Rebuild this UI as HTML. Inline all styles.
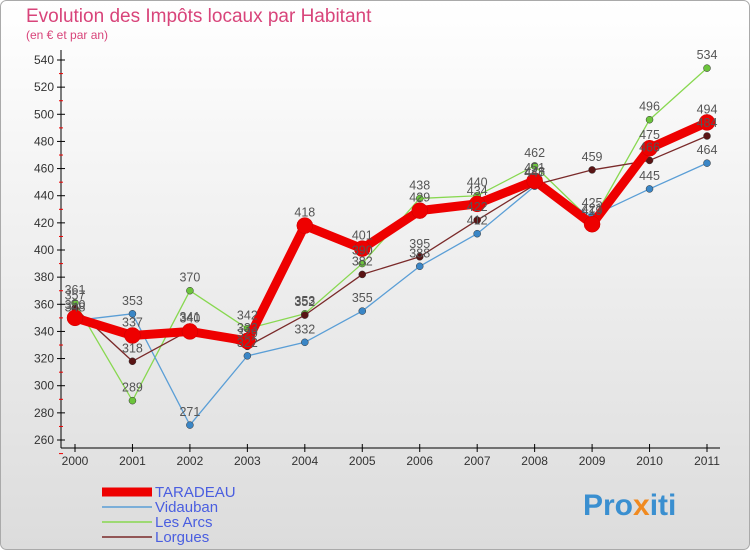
<!DOCTYPE html>
<html><head><meta charset="utf-8"><style>
body{margin:0;width:750px;height:550px;overflow:hidden;font-family:"Liberation Sans",sans-serif}
svg{display:block}
</style></head><body>
<svg id="c" width="750" height="550" xmlns="http://www.w3.org/2000/svg">
<defs><linearGradient id="bg" x1="0" y1="0" x2="0" y2="1"><stop offset="0" stop-color="#ffffff"/><stop offset="1" stop-color="#dcdcdc"/></linearGradient></defs>
<rect x="0.5" y="0.5" width="749" height="549" rx="6" fill="url(#bg)" stroke="#aaa"/>
<text x="26" y="22" font-size="19" fill="#d8447a">Evolution des Impôts locaux par Habitant</text>
<text x="26" y="39" font-size="12" fill="#d8447a">(en € et par an)</text>
<g id="axes"></g><g id="series"></g><g id="legend"></g>
<text x="583" y="515" font-size="30" font-weight="bold" fill="#3a8fd0">Pro<tspan fill="#f08a20">x</tspan>iti</text>
</svg>
<script>
const years=[2000,2001,2002,2003,2004,2005,2006,2007,2008,2009,2010,2011];
const yTicks=[260,280,300,320,340,360,380,400,420,440,460,480,500,520,540];
const names=["TARADEAU","Vidauban","Les Arcs","Lorgues"];
const taradeau=[350,337,340,333,418,401,429,434,451,419,475,494];
const vidauban=[348,353,271,322,332,355,388,412,447,425,445,464];
const lesArcs=[361,289,370,342,353,390,438,440,462,421,496,534];
const lorgues=[357,318,341,329,352,382,395,422,448,459,466,484];
const NS="http://www.w3.org/2000/svg";
const X0=75,X1=707,Y0=440,Y1=60,VMIN=260,VMAX=540;
const xs=i=>X0+(X1-X0)*i/(years.length-1);
const ys=v=>Y0-(v-VMIN)*(Y0-Y1)/(VMAX-VMIN);
function mk(t,a,p){const e=document.createElementNS(NS,t);for(const k in a)e.setAttribute(k,a[k]);p.appendChild(e);return e;}
const ax=document.getElementById('axes');
const yl=mk('line',{x1:61,y1:50,x2:61,y2:448,stroke:'#000'},ax);


const xl=mk('line',{x1:61,y1:448,x2:720,y2:448,stroke:'#000'},ax);


yTicks.forEach(v=>{
 mk('line',{x1:57,y1:ys(v),x2:65,y2:ys(v),stroke:'#000'},ax);
 mk('line',{x1:59,y1:ys(v)+13.6,x2:63,y2:ys(v)+13.6,stroke:'#e00'},ax);
 const t=mk('text',{x:54,y:ys(v)+4,'text-anchor':'end','font-size':12,fill:'#333'},ax);t.textContent=v;
 
 
});
years.forEach((y,i)=>{
 mk('line',{x1:xs(i),y1:444,x2:xs(i),y2:452,stroke:'#000'},ax);
 const t=mk('text',{x:xs(i),y:465,'text-anchor':'middle','font-size':12,fill:'#333'},ax);t.textContent=y;
 
 
});
const sg=document.getElementById('series');
const defs=[[lesArcs,'#88d850','#6cc43c',1.3,3.5,'les-arcs'],[vidauban,'#5a9ed6','#3a86c6',1.3,3.5,'vidauban'],[lorgues,'#7a2a2a','#5a1414',1.3,3.5,'lorgues'],[taradeau,'#ee0000','#ee0000',9,8,'taradeau']];
defs.forEach(([d,lc,pc,w,r,n])=>{
 const pl=mk('polyline',{points:d.map((v,i)=>xs(i)+','+ys(v)).join(' '),fill:'none',stroke:lc,'stroke-width':w,'stroke-linejoin':'round'},sg);
 
 
 d.forEach((v,i)=>{
  const c=mk('circle',{cx:xs(i),cy:ys(v),r:r,fill:pc,stroke:n=='taradeau'?'#c00':'#333','stroke-width':0.5},sg);
  
  
 });
});
defs.forEach(([d,lc,pc,w,r,n])=>{
 d.forEach((v,i)=>{
  const t=mk('text',{x:xs(i),y:ys(v)-9,'text-anchor':'middle','font-size':12.5,fill:'#555'},sg);t.textContent=v;
  
  
 });
});
const lg=document.getElementById('legend');
const lcols=['#ee0000','#5a9ed6','#88d850','#7a2a2a'];const lw=[9,1.5,1.5,1.5];
names.forEach((nm,i)=>{
 const y=492+i*15;
 const l=mk('line',{x1:102,y1:y,x2:152,y2:y,stroke:lcols[i],'stroke-width':lw[i]},lg);
 
 
 const t=mk('text',{x:155,y:y+5,'font-size':15,fill:'#4a5ee0'},lg);t.textContent=nm;
 
 
});
</script>
</body></html>
